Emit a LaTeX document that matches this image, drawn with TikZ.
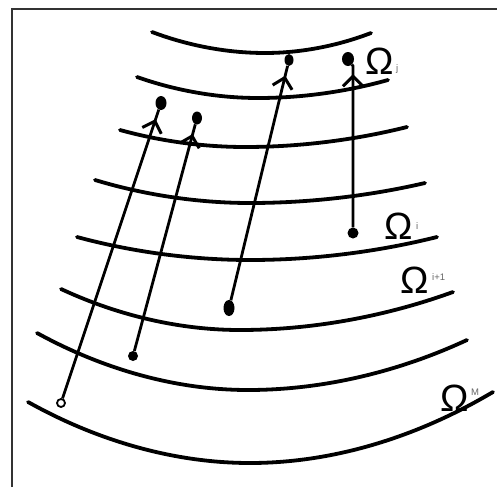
\documentclass[tikz,border=0pt]{standalone}
\usepackage{fontspec}
\setmainfont{Liberation Sans}
\usetikzlibrary{arrows.meta,decorations.markings,shapes.geometric}
\begin{document}
\begin{tikzpicture}[x=1pt,y=-1pt,
  frameline/.style={line width=1.6pt, draw=black!80},
  layer/.style={line width=3.8pt, line cap=round},
  flow/.style={line width=2.8pt, postaction={decorate},
    decoration={markings, mark=at position -10pt with {\arrow{Straight Barb[length=10pt,width=20pt,line width=3pt]}}}},
  enddot/.style={ellipse, fill=black, inner sep=0pt, minimum width=10pt, minimum height=13pt},
  startdot/.style={circle, fill=black, inner sep=0pt, minimum size=#1},
  ring/.style={circle, draw=black, line width=1.8pt, fill=white, inner sep=0pt, minimum size=8pt},
  omega/.style={font=\fontsize{38}{38}\selectfont, inner sep=0pt},
  idx/.style={font=\fontsize{9.5}{9.5}\selectfont, text=black!60, inner sep=0pt, anchor=west}]
\useasboundingbox (0,0) rectangle (497,487);
% frame (only left and top visible)
\draw[frameline] (12,487) -- (12,9) -- (497,9);
% layers
\draw[layer] (152,32) parabola bend (265,53) (371,33);
\draw[layer] (137,77) parabola bend (258,98) (388,80);
\draw[layer] (120,130) parabola bend (245,147) (407,127);
\draw[layer] (95,180) parabola bend (250,203) (425,183);
\draw[layer] (77,237) parabola bend (250,260) (437,237);
\draw[layer] (61,289) parabola bend (240,330) (453,292);
\draw[layer] (37,333) parabola bend (248,390) (467,340);
\draw[layer] (28,402) parabola bend (250,463) (493,392);
% points
\node[ring] (a0) at (61,403) {};
\node[enddot, minimum width=11pt, minimum height=14pt] (a1) at (161,103) {};
\node[startdot=10pt] (b0) at (133,356) {};
\node[enddot] (b1) at (197,118) {};
\node[enddot, minimum width=11pt, minimum height=16pt] (c0) at (229,308) {};
\node[enddot, minimum width=9pt, minimum height=12pt] (c1) at (289,60) {};
\node[startdot=11pt] (d0) at (353,233) {};
\node[enddot, minimum width=12pt, minimum height=14pt] (d1) at (348,59) {};
% connectors
\draw[flow] (a0) -- (a1);
\draw[flow] (b0) -- (b1);
\draw[flow] (c0) -- (c1);
\draw[flow] (d0) -- (353,66) -- (d1);
% labels
\node[omega] (lj) at (380,61) {Ω};
\node[idx] (lj2) at (396,69) {j};
\node[omega] (li) at (399,226) {Ω};
\node[idx] (li2) at (416,226) {i};
\node[omega] (li1) at (415,280) {Ω};
\node[idx] (li12) at (432,277) {i+1};
\node[omega] (lm) at (455,398) {Ω};
\node[idx] (lm2) at (471,392) {M};
\end{tikzpicture}
\end{document}
